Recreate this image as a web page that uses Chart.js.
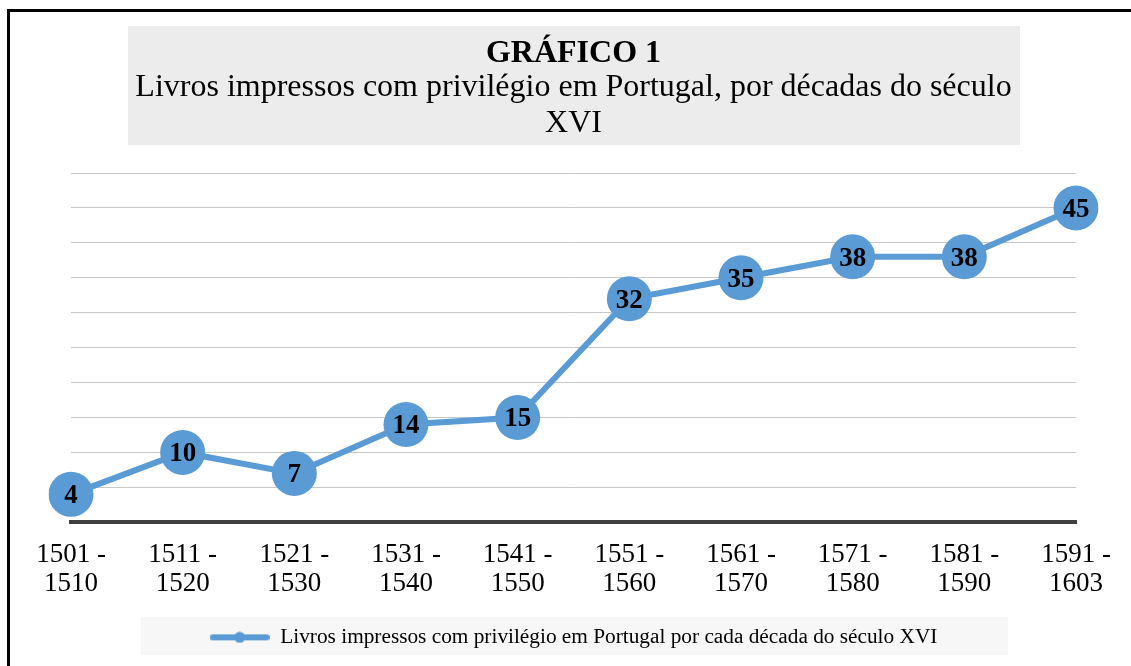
<!DOCTYPE html>
<html lang="pt">
<head>
<meta charset="utf-8">
<title>Gráfico 1</title>
<script src="https://cdn.jsdelivr.net/npm/chart.js@4/dist/chart.umd.min.js"></script>
<style>
  html, body { margin: 0; padding: 0; background: #fff; overflow: hidden; }
  #frame {
    position: absolute; left: 7px; top: 9px; width: 1200px; height: 700px;
    border-left: 3px solid #000; border-top: 3px solid #000;
  }
  #wrap { position: absolute; left: 0; top: 0; width: 1131px; height: 666px; }
</style>
</head>
<body>
<div id="frame"></div>
<div id="wrap"><canvas id="chart"></canvas></div>
<script>
const decadas = [
  ["1501 -", "1510"], ["1511 -", "1520"], ["1521 -", "1530"], ["1531 -", "1540"],
  ["1541 -", "1550"], ["1551 -", "1560"], ["1561 -", "1570"], ["1571 -", "1580"],
  ["1581 -", "1590"], ["1591 -", "1603"],
];
const livros = [4, 10, 7, 14, 15, 32, 35, 38, 38, 45];
const serieNome = "Livros impressos com privilégio em Portugal por cada década do século XVI";
const titulo = "GRÁFICO 1";
const subtitulo = ["Livros impressos com privilégio em Portugal, por décadas do século", "XVI"];

const SERIF = "'Liberation Serif', 'Times New Roman', serif";
const BLUE = "#5b9bd5";

// legend marker: thick line with a small dot in the middle
const legendMark = document.createElement("canvas");
legendMark.width = 60;
legendMark.height = 12;
(() => {
  const c = legendMark.getContext("2d");
  c.strokeStyle = BLUE;
  c.fillStyle = BLUE;
  c.lineWidth = 6;
  c.lineCap = "round";
  c.beginPath();
  c.moveTo(3, 6);
  c.lineTo(57, 6);
  c.stroke();
  c.beginPath();
  c.arc(30, 6, 5.5, 0, Math.PI * 2);
  c.fill();
})();

// grey boxes behind title and legend
const boxes = {
  id: "boxes",
  beforeDraw(chart) {
    const ctx = chart.ctx;
    ctx.save();
    ctx.fillStyle = "#ececec";
    ctx.fillRect(128, 26, 892, 119);
    ctx.fillStyle = "#f7f7f7";
    ctx.fillRect(141, 617, 867, 38);
    ctx.restore();
  },
};

// value written inside each marker
const labels = {
  id: "labels",
  afterDatasetsDraw(chart) {
    const ctx = chart.ctx;
    const meta = chart.getDatasetMeta(0);
    ctx.save();
    ctx.font = "bold 27px " + SERIF;
    ctx.fillStyle = "#000";
    ctx.textAlign = "center";
    ctx.textBaseline = "middle";
    meta.data.forEach((pt, i) => {
      ctx.fillText(String(livros[i]), pt.x, pt.y + 2);
    });
    ctx.restore();
  },
};

new Chart(document.getElementById("chart"), {
  type: "line",
  data: {
    labels: decadas,
    datasets: [
      {
        label: serieNome,
        data: livros,
        borderColor: BLUE,
        backgroundColor: BLUE,
        borderWidth: 6,
        pointRadius: 22.5,
        pointHoverRadius: 22.5,
        pointBorderWidth: 0,
        pointBackgroundColor: BLUE,
        pointBorderColor: BLUE,
        tension: 0,
      },
    ],
  },
  options: {
    responsive: true,
    maintainAspectRatio: false,
    animation: false,
    layout: { padding: { left: 71, right: 55, top: 0, bottom: 8 } },
    scales: {
      x: {
        offset: false,
        grid: { display: false },
        border: { color: "#404040", width: 4 },
        ticks: {
          color: "#000",
          font: { family: SERIF, size: 27, lineHeight: 1.1 },
          padding: 9.5,
          maxRotation: 0,
          autoSkip: false,
        },
      },
      y: {
        min: 0,
        max: 50,
        ticks: { stepSize: 5, display: false },
        grid: { color: "#c8c8c8", lineWidth: 1, drawTicks: false },
        border: { display: false },
      },
    },
    plugins: {
      tooltip: { enabled: false },
      title: {
        display: true,
        text: titulo,
        color: "#000",
        font: { family: SERIF, size: 32, weight: "bold", lineHeight: 1.0 },
        padding: { top: 38, bottom: 0 },
      },
      subtitle: {
        display: true,
        text: subtitulo,
        color: "#000",
        font: { family: SERIF, size: 32, lineHeight: 1.125 },
        padding: { top: 0, bottom: 31 },
      },
      legend: {
        position: "bottom",
        labels: {
          color: "#000",
          font: { family: SERIF, size: 21.3 },
          usePointStyle: true,
          pointStyleWidth: 60,
          padding: 18,
          generateLabels(chart) {
            return Chart.defaults.plugins.legend.labels
              .generateLabels(chart)
              .map((item) => ({ ...item, pointStyle: legendMark }));
          },
        },
      },
    },
  },
  plugins: [boxes, labels],
});
</script>
</body>
</html>
